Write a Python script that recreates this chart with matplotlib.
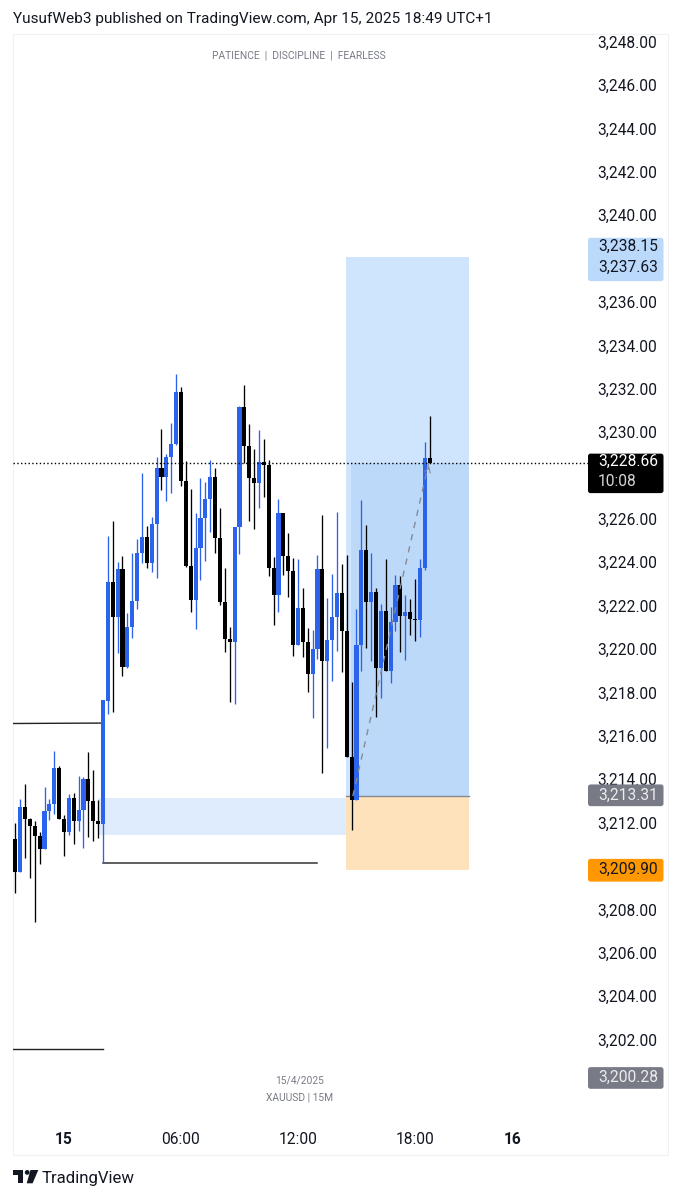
import matplotlib
matplotlib.use("Agg")
import matplotlib.pyplot as plt
import numpy as np
from matplotlib.patches import Circle, FancyBboxPatch, Polygon, Rectangle
from matplotlib.ticker import FuncFormatter
from matplotlib.transforms import ScaledTranslation

plt.rcParams["font.family"] = ["Roboto", "DejaVu Sans"]

W, H = 681, 1200
BLUE = "#2B63EA"
TEXT = "#131722"

# XAUUSD 15m candles, first one is at bar -10, bar 0 is 00:00 on the 15th
opens = [3211.33, 3209.83, 3212.82, 3212.26, 3211.93, 3211.49, 3210.86, 3212.63, 3212.93, 3214.62,
         3212.27, 3211.67, 3213.22, 3212.15, 3212.69, 3214.11, 3213.10, 3212.18, 3212.01, 3217.71,
         3223.20, 3221.58, 3223.78, 3219.26, 3221.12, 3222.32, 3224.53, 3225.26, 3224.04, 3225.87,
         3228.45, 3228.02, 3228.95, 3229.54, 3231.93, 3227.83, 3223.92, 3222.37, 3224.75, 3226.12,
         3227.02, 3228.01, 3225.20, 3222.27, 3220.57, 3220.43, 3225.73, 3231.24, 3229.45, 3227.96,
         3227.76, 3228.72, 3228.58, 3223.83, 3222.58, 3226.35, 3224.40, 3223.69, 3220.26, 3221.97,
         3220.40, 3218.96, 3220.08, 3223.77, 3219.54, 3220.52, 3221.57, 3222.66, 3220.91, 3215.10,
         3213.13, 3220.26, 3224.64, 3222.26, 3222.73, 3219.23, 3221.84, 3219.09, 3221.35, 3223.04,
         3221.63, 3221.81, 3221.48, 3221.42, 3223.83, 3228.90]
highs = [3212.06, 3213.16, 3213.86, 3212.29, 3212.15, 3211.67, 3213.72, 3213.19, 3215.41, 3214.71,
         3212.44, 3213.39, 3213.47, 3214.25, 3214.21, 3215.33, 3214.52, 3213.13, 3217.74, 3225.30,
         3225.98, 3224.12, 3224.38, 3221.75, 3224.53, 3225.18, 3228.22, 3225.76, 3226.17, 3228.95,
         3230.22, 3229.10, 3230.53, 3232.79, 3232.19, 3228.78, 3227.46, 3226.38, 3227.96, 3227.78,
         3228.82, 3228.42, 3226.58, 3223.81, 3221.12, 3225.73, 3231.31, 3232.27, 3230.45, 3229.31,
         3230.19, 3229.76, 3228.81, 3224.35, 3227.00, 3226.35, 3225.43, 3224.30, 3224.23, 3222.89,
         3221.06, 3220.97, 3224.41, 3226.27, 3222.43, 3223.54, 3226.43, 3224.01, 3224.43, 3218.59,
         3221.92, 3226.96, 3225.81, 3224.51, 3222.89, 3222.17, 3224.23, 3222.02, 3223.50, 3223.47,
         3222.58, 3222.40, 3223.32, 3224.23, 3229.65, 3230.84]
lows = [3208.83, 3209.83, 3210.44, 3209.55, 3207.51, 3210.17, 3210.86, 3212.21, 3212.47, 3212.24,
        3210.56, 3211.52, 3211.10, 3211.70, 3210.91, 3211.41, 3211.24, 3211.39, 3210.24, 3217.08,
        3217.18, 3219.92, 3218.85, 3219.20, 3220.59, 3221.95, 3224.04, 3223.84, 3223.66, 3223.35,
        3227.44, 3226.90, 3227.29, 3229.50, 3227.59, 3223.86, 3221.81, 3221.03, 3223.26, 3224.15,
        3225.50, 3224.51, 3222.12, 3219.97, 3217.64, 3217.56, 3224.47, 3228.68, 3226.01, 3225.61,
        3226.59, 3227.12, 3223.47, 3221.20, 3221.81, 3223.50, 3222.48, 3219.77, 3220.26, 3219.74,
        3218.11, 3216.90, 3219.62, 3214.36, 3215.52, 3218.62, 3220.00, 3219.05, 3215.10, 3211.75,
        3213.13, 3219.09, 3220.13, 3219.55, 3216.97, 3217.82, 3219.09, 3218.51, 3220.94, 3219.97,
        3219.59, 3220.74, 3220.46, 3220.63, 3223.74, 3228.66]
closes = [3209.83, 3212.82, 3212.26, 3211.93, 3211.49, 3210.86, 3212.63, 3212.93, 3214.62, 3212.27,
          3211.67, 3213.22, 3212.15, 3212.69, 3214.11, 3213.10, 3212.18, 3212.01, 3217.73, 3223.20,
          3221.58, 3223.78, 3219.26, 3221.12, 3222.32, 3224.53, 3225.26, 3224.04, 3225.87, 3228.45,
          3228.02, 3228.95, 3229.54, 3231.93, 3227.83, 3223.92, 3222.37, 3224.75, 3226.12, 3227.02,
          3228.01, 3225.20, 3222.27, 3220.57, 3220.43, 3225.73, 3231.24, 3229.45, 3227.96, 3227.76,
          3228.72, 3228.58, 3223.83, 3222.58, 3226.35, 3224.40, 3223.69, 3220.26, 3221.97, 3220.40,
          3218.96, 3220.08, 3223.77, 3219.54, 3220.52, 3221.57, 3222.66, 3220.91, 3215.10, 3213.13,
          3220.26, 3224.64, 3222.26, 3222.73, 3219.23, 3221.84, 3219.09, 3221.35, 3223.04, 3221.63,
          3221.81, 3221.48, 3221.42, 3223.83, 3228.90, 3228.66]

price_ticks = [3202, 3204, 3206, 3208, 3212, 3214, 3216, 3218, 3220, 3222, 3224, 3226,
               3230, 3232, 3234, 3236, 3240, 3242, 3244, 3246, 3248]
time_ticks = [0, 24, 48, 72, 92]
time_labels = ["15", "06:00", "12:00", "18:00", "16"]

last_price = 3228.66
entry_price = 3213.31
stop_price = 3209.90
target_price = 3238.15


def y_frac(px):
    return 1 - px / H


def tag(ax, top_price, bottom_price, color, radius=2.5):
    """Rounded price label on the axis, drawn in display pixels."""
    trans = ax.transData
    top = trans.transform((0, top_price))[1]
    bottom = trans.transform((0, bottom_price))[1]
    box = FancyBboxPatch((588 + radius, bottom + radius), 75.5 - 2 * radius, top - bottom - 2 * radius,
                         boxstyle=f"round,pad={radius},rounding_size={radius}", transform=None,
                         facecolor=color, edgecolor="none", zorder=5)
    ax.figure.add_artist(box)


fig = plt.figure(figsize=(W / 100, H / 100), dpi=100, facecolor="white")
ax = fig.add_axes([13 / W, y_frac(1122), 575 / W, 1089 / H])
ax.patch.set_visible(False)
for s in ax.spines.values():
    s.set_visible(False)
ax.set_xlim((13 - 64) / 4.875, (588 - 64) / 4.875)
ax.set_ylim(3198.29, 3248.49)

# position tool and zones
ax.add_patch(Rectangle((57.85, entry_price), 25.23, target_price - entry_price, fc="#CFE4FD", ec="none", zorder=1))
ax.add_patch(Rectangle((58.9, entry_price), 24.18, last_price - entry_price, fc="#BDD9FA", ec="none", zorder=1.1))
ax.add_patch(Rectangle((57.85, stop_price), 25.23, entry_price - stop_price, fc="#FDE2BC", ec="none", zorder=1))
ax.add_patch(Rectangle((7, 3211.52), 50.85, 1.72, fc="#DFECFD", ec="none", zorder=1))
ax.plot([57.85, 83.08], [entry_price, entry_price], color="#85888F", lw=1, zorder=1.5)

# structure lines
ax.plot([-10.46, 8], [3216.66, 3216.68], color="#222222", lw=1, zorder=1.5)
ax.plot([8, 51.9], [3210.24, 3210.24], color="#333333", lw=1.1, zorder=1.5)
ax.plot([-10.46, 8], [3201.65, 3201.65], color="#222222", lw=1, zorder=1.5)

# candles
bars = np.arange(-10, len(opens) - 10)
o, c = np.array(opens), np.array(closes)
colors = [BLUE if up else "black" for up in c >= o]
ax.vlines(bars, lows, highs, colors=colors, lw=0.95, zorder=2)
ax.bar(bars, np.maximum(np.abs(c - o), 0.06), bottom=np.minimum(o, c), width=0.84, color=colors,
       linewidth=0, zorder=3)

# trade path
ax.plot([59.25, 74.8], [entry_price, last_price], color="#858A96", lw=1, dashes=(4.5, 4.5), zorder=4)
ax.annotate("", xy=(75, 3228.66), xytext=(74.6, 3228.25),
            arrowprops=dict(arrowstyle="->", color="#858A96", lw=0.8, mutation_scale=10), zorder=4)

ax.axhline(last_price, color="black", lw=1, dashes=(1, 1.7), zorder=4)

# axes
ax.yaxis.tick_right()
ax.set_yticks(price_ticks)
ax.yaxis.set_major_formatter(FuncFormatter(lambda v, _: f"{v:,.2f}"))
ax.tick_params(axis="y", length=0, pad=7, labelsize=11.2, labelcolor=TEXT)
shift_up = ScaledTranslation(0, 2 / 100, fig.dpi_scale_trans)
for lab in ax.get_yticklabels():
    lab.set_transform(lab.get_transform() + shift_up)
ax.set_xticks(time_ticks, time_labels)
ax.tick_params(axis="x", length=0, pad=7.5, labelsize=11.2, labelcolor=TEXT)
for i in (0, 4):
    ax.get_xticklabels()[i].set_fontweight("bold")

# price tags
tag(ax, 3239.05, 3237.05, "#BBD9FB")
tag(ax, 3229.1, 3227.28, "black")
tag(ax, 3213.85, 3212.85, "#787B86")
tag(ax, 3210.42, 3209.37, "#FF9800")
tag(ax, 3200.82, 3199.82, "#787B86")


def axis_text(x, y, s, color, size=11.2, **kw):
    fig.text(x / W, y_frac(y), s, color=color, fontsize=size, va="center", ha=kw.pop("ha", "left"), zorder=6, **kw)


axis_text(598, 246, "3,238.15", TEXT)
axis_text(598, 267, "3,237.63", TEXT)
axis_text(598, 461.5, "3,228.66", "white")
axis_text(598, 481.5, "10:08", "#D6D6D6")
axis_text(598, 795.5, "3,213.31", "#ECECEC")
axis_text(598, 869, "3,209.90", TEXT)
axis_text(598, 1077.5, "3,200.28", "#ECECEC")

# header, watermarks, footer
axis_text(13, 19, "YusufWeb3 published on TradingView.com, Apr 15, 2025 18:49 UTC+1", TEXT, size=11.05)
axis_text(299, 56, "PATIENCE  |  DISCIPLINE  |  FEARLESS", "#787B86", size=7.4, ha="center")
axis_text(300, 1080, "15/4/2025", "#787B86", size=7.4, ha="center")
axis_text(300, 1097, "XAUUSD | 15M", "#787B86", size=7.4, ha="center")
axis_text(42, 1178, "TradingView", TEXT, size=12.1)

fig.add_artist(Rectangle((12.5, H - 1155), 655.5, 1121.5, transform=None, fc="none", ec="#F0F1F4", lw=0.8, zorder=0))

logo = [
    Polygon([(12.7, H - 1170), (23.4, H - 1170), (23.4, H - 1183.3), (18.3, H - 1183.3), (18.3, H - 1174.5), (12.7, H - 1174.5)], closed=True),
    Polygon([(30.5, H - 1170), (38.3, H - 1170), (32.6, H - 1183.3), (26.7, H - 1183.3)], closed=True),
    Circle((27.2, H - 1172.4), 2.4),
]
for p in logo:
    p.set(transform=None, facecolor=TEXT, edgecolor="none", zorder=6)
    fig.add_artist(p)

fig.savefig("out.png", dpi=100)
